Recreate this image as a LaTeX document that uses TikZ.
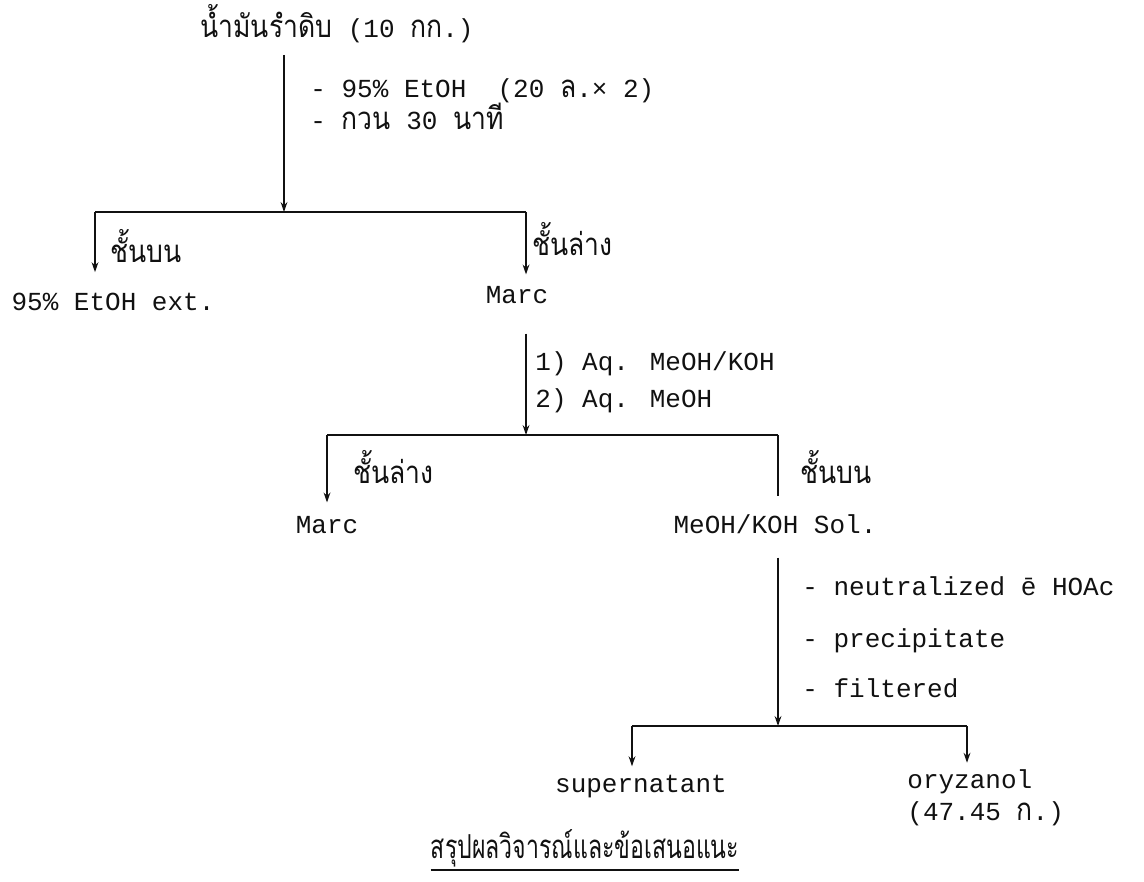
\documentclass[tikz,border=0pt]{standalone}
\usepackage{fontspec}
\setmainfont{Liberation Mono}
\newfontfamily\thai[Script=Thai,Scale=1.2,FakeStretch=0.85]{Loma}
\newfontfamily\thaihead[Script=Thai,FakeStretch=0.7]{Loma}
\usepackage{xcolor}
\usetikzlibrary{arrows.meta}
\definecolor{Ink}{HTML}{111111}

\begin{document}
\begin{tikzpicture}[x=0.5pt,y=-0.5pt,>={Stealth[length=5pt,width=3.4pt]},
  txt/.style={inner sep=0pt,text=Ink,font=\fontsize{13}{15}\selectfont},
  lbl/.style={txt,anchor=base west},
  res/.style={txt,anchor=base},
  flow/.style={Ink,line width=0.8pt,->},
  rail/.style={Ink,line width=0.9pt}]
  \useasboundingbox (0,0) rectangle (1144,882);
  % raw oil and first extraction
  \node[lbl] (oil) at (200,38) {{\thai น้ำมันรำดิบ} (10 {\thai กก}.)};
  \coordinate (t1) at (284,55);
  \coordinate (j1) at (284,212);
  \draw[flow] (t1) -- (j1);
  \node[lbl] (eth) at (310,98) {- 95\% EtOH\ \ (20 {\thai ล}.× 2)};
  \node[lbl] (stir) at (310,130) {- {\thai กวน} 30 {\thai นาที}};
  \coordinate (l1) at (95,212);
  \coordinate (r1) at (526,212);
  \draw[rail] (l1) -- (r1);
  \node[res] (ext) at (113,310) {95\% EtOH ext.};
  \node[lbl] (up1) at (110,262) {\thai ชั้นบน};
  \node[res] (marc1) at (517,303) {Marc};
  \node[lbl] (low1) at (532,255) {\thai ชั้นล่าง};
  \draw[flow,shorten >=10pt] (l1) -- (l1 |- ext.north);
  \draw[flow,shorten >=5.5pt] (r1) -- (r1 |- marc1.north);
  % second extraction
  \coordinate (j2) at (526,435);
  \draw[flow,shorten <=15pt] (marc1.south -| j2) -- (j2);
  \node[lbl] (aq1) at (535,370) {1) Aq. MeOH/KOH};
  \node[lbl] (aq2) at (535,407) {2) Aq. MeOH};
  \coordinate (l2) at (327,435);
  \coordinate (r2) at (778,435);
  \draw[rail] (l2) -- (r2);
  \node[lbl] (low2) at (353,483) {\thai ชั้นล่าง};
  \node[lbl] (up2) at (800,483) {\thai ชั้นบน};
  \node[res] (marc2) at (327,533) {Marc};
  \node[res] (sol) at (775,533) {MeOH/KOH Sol.};
  \draw[flow,shorten >=6.5pt] (l2) -- (l2 |- marc2.north);
  \draw[rail,shorten >=9pt] (r2) -- (r2 |- sol.north);
  % precipitation
  \coordinate (j3) at (778,726);
  \draw[flow,shorten <=12pt] (sol.south -| j3) -- (j3);
  \node[lbl] (neu) at (802,595) {- neutralized ē HOAc};
  \node[lbl] (prec) at (802,647) {- precipitate};
  \node[lbl] (filt) at (802,697) {- filtered};
  \coordinate (l3) at (632,726);
  \coordinate (r3) at (967,726);
  \draw[rail] (l3) -- (r3);
  \node[res] (sup) at (641,792) {supernatant};
  \node[lbl] (ory) at (907,788) {oryzanol};
  \node[lbl] (yld) at (907,820) {(47.45 {\thai ก}.)};
  \draw[flow,shorten >=4pt] (l3) -- (l3 |- sup.north);
  \draw[flow,shorten >=3pt] (r3) -- (r3 |- ory.north);
  % heading
  \node[txt,anchor=base,font=\thaihead\fontsize{16.5}{19}\selectfont] (ttl) at (585,858) {สรุปผลวิจารณ์และข้อเสนอแนะ};
  \draw[rail] ([yshift=-1.5pt]ttl.south west) -- ([yshift=-1.5pt]ttl.south east);
\end{tikzpicture}
\end{document}
